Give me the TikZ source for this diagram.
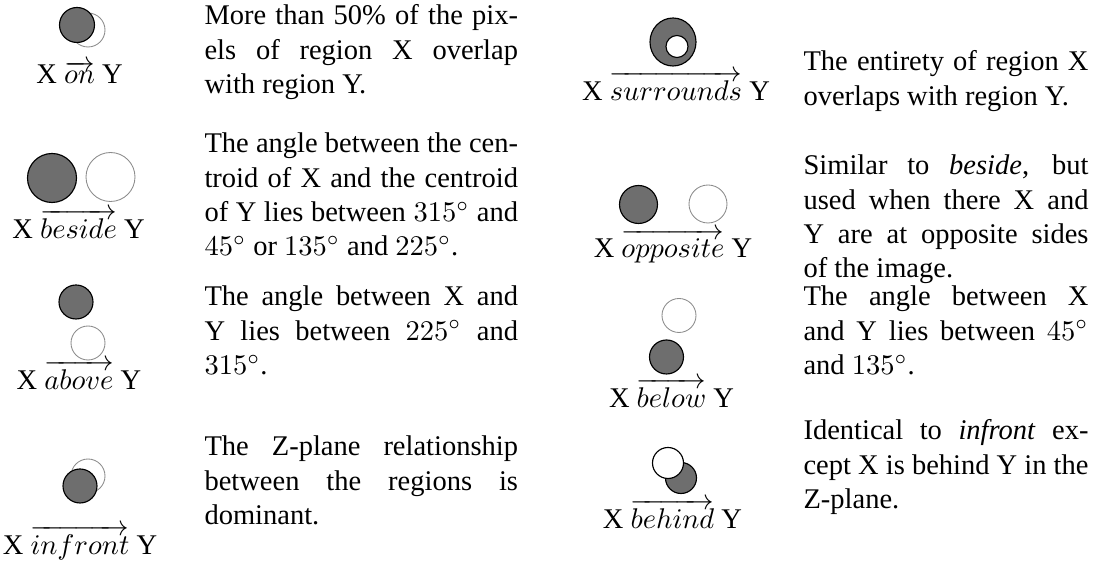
\documentclass[tikz,border=0pt]{standalone}
\usepackage{amsmath}
\usepackage{fontspec}
\setmainfont{Liberation Serif}
\usepackage{xcolor}
\usetikzlibrary{positioning}
\definecolor{regdark}{gray}{0.43}
\newcommand{\rel}[1]{X $\overrightarrow{#1}$ Y}

\begin{document}
\begin{tikzpicture}[
  x=0.3509pt, y=-0.3509pt,
  regx/.style={draw=black, fill=regdark, line width=0.4pt},
  regy/.style={draw=black!45, fill=white, line width=0.3pt},
  regw/.style={draw=black, fill=white, line width=0.4pt},
  lab/.style={anchor=base, inner sep=0pt},
  descl/.style={anchor=base west, inner sep=0pt, text width=110pt, align=justify},
  descr/.style={anchor=base west, inner sep=0pt, text width=100pt, align=justify}]
  \useasboundingbox (0,0) rectangle (1096,564);
  % left column
  \draw[regy] (88,30) circle[radius=17];
  \draw[regx] (77,25) circle[radius=17.5];
  \node[lab] (on) at (79.5,84) {\rel{on}};
  \draw[regx] (52,178) circle[radius=24.5];
  \draw[regy] (110.5,177) circle[radius=24.5];
  \node[lab] (beside) at (78.5,239) {\rel{beside}};
  \draw[regx] (76,302) circle[radius=17];
  \draw[regy] (88,343) circle[radius=17];
  \node[lab] (above) at (79,390) {\rel{above}};
  \draw[regy] (88,476) circle[radius=17];
  \draw[regx] (80,486) circle[radius=17];
  \node[lab] (infront) at (80,555) {\rel{infront}};
  \node[descl] (onTxt) at (204,25) {More than 50\% of the pix-\linebreak els of region X overlap\linebreak with region Y.};
  \node[descl] (besideTxt) at (204,153) {The angle between the cen-\linebreak troid of X and the centroid\linebreak of Y lies between $315^\circ$ and\linebreak $45^\circ$ or $135^\circ$ and $225^\circ$.};
  \node[descl] (aboveTxt) at (204,306) {The angle between X and\linebreak Y lies between $225^\circ$ and\linebreak $315^\circ$.};
  \node[descl] (infrontTxt) at (204,456) {The Z-plane relationship\linebreak between the regions is\linebreak dominant.};
  % right column
  \draw[regx] (673,42) ellipse[x radius=23, y radius=24];
  \draw[regw] (677,46.5) circle[radius=11];
  \node[lab] (surrounds) at (676,101) {\rel{surrounds}};
  \draw[regx] (638.5,204.5) circle[radius=19];
  \draw[regy] (708,204) circle[radius=19];
  \node[lab] (opposite) at (673,258) {\rel{opposite}};
  \draw[regy] (679,315.5) circle[radius=17];
  \draw[regx] (666.5,357) circle[radius=17];
  \node[lab] (below) at (671.5,408) {\rel{below}};
  \draw[regx] (681,478) circle[radius=15.5];
  \draw[regw] (668,463) circle[radius=15.5];
  \node[lab] (behind) at (672.5,529) {\rel{behind}};
  \node[descr] (surroundsTxt) at (803,71) {The entirety of region X\linebreak overlaps with region Y.};
  \node[descr] (oppositeTxt) at (803,175) {Similar to \textit{beside}, but\linebreak used when there X and\linebreak Y are at opposite sides\linebreak of the image.};
  \node[descr] (belowTxt) at (803,306) {The angle between X\linebreak and Y lies between $45^\circ$\linebreak and $135^\circ$.};
  \node[descr] (behindTxt) at (803,440) {Identical to \textit{infront} ex-\linebreak cept X is behind Y in the\linebreak Z-plane.};
\end{tikzpicture}
\end{document}
